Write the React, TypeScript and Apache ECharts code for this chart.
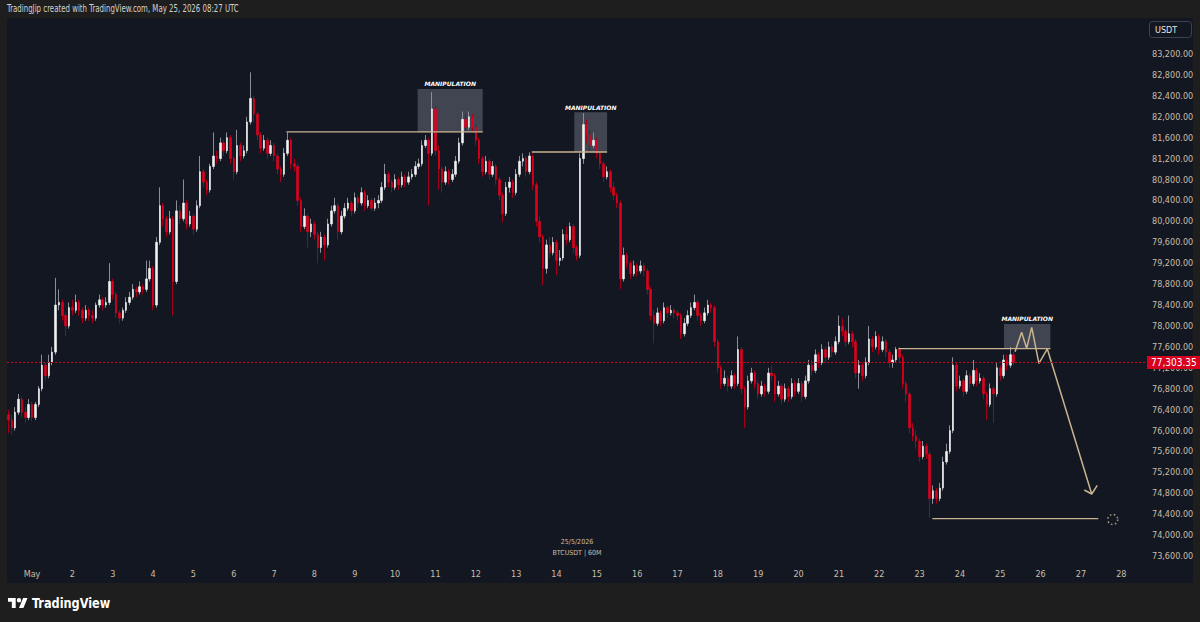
import React, { useEffect, useRef } from 'react';
import * as echarts from 'echarts';

// ---------- data (2-hour candles, hours counted from 1 May 00:00 UTC) ----------
const START_HOUR = -14; // first candle: 30 Apr 10:00 UTC
const STEP_HOURS = 2;
const FIRST_OPEN = 76300;
const LAST_PRICE = 77303.35;

const closes = [
  76200, 76050, 76350, 76600, 76350, 76250, 76500, 76250, 76500, 76800,
  77250, 77050, 77300, 77500, 78400, 78450, 78200, 78000, 78350, 78300,
  78450, 78300, 78150, 78300, 78200, 78150, 78400, 78500, 78400, 78450,
  78850, 78600, 78250, 78150, 78300, 78450, 78550, 78700, 78650, 78750,
  78700, 78900, 79100, 78400, 79600, 80300, 80050, 79800, 80050, 78850,
  80200, 80050, 80350, 79950, 80100, 79850, 80300, 80950, 80750, 80600,
  81050, 81250, 81200, 81500, 81350, 81600, 81200, 80950, 81450, 81250,
  81350, 81900, 82350, 82050, 81650, 81400, 81550, 81300, 81450, 81250,
  81000, 80900, 81300, 81550, 81100, 81050, 80400, 79900, 80100, 79800,
  79950, 79750, 79500, 79700, 79550, 79950, 80200, 80300, 79800, 80100,
  80250, 80350, 80200, 80450, 80350, 80550, 80300, 80400, 80250, 80350,
  80400, 80650, 80900, 80750, 80650, 80800, 80700, 80850, 80750, 80850,
  80900, 81050, 81100, 81450, 81550, 81300, 82150, 81350, 81000, 80750,
  80950, 80800, 80900, 81150, 81500, 81950, 81800, 82000, 81800, 81550,
  81200, 80950, 81150, 80900, 81050, 80800, 80500, 80150, 80650, 80750,
  80550, 80900, 81150, 81200, 80950, 81250, 80700, 80000, 79700, 79100,
  79550, 79400, 79600, 79250, 79300, 79750, 79650, 79900, 79500, 79350,
  81200, 81850, 81650, 81450, 81550, 81300, 81100, 80850, 80950, 80650,
  80500, 80350, 78900, 79350, 79200, 79000, 79150, 79050, 79150, 79050,
  78700, 78200, 78050, 78250, 78100, 78350, 78250, 78300, 78250, 78200,
  77850, 78050, 78200, 78350, 78450, 78200, 78100, 78250, 78400, 78350,
  77700, 77200, 76900, 77000, 76850, 77050, 76900, 77550, 76800, 76450,
  76950, 77100, 76900, 76700, 76850, 76750, 77100, 77050, 76700, 76850,
  76600, 76800, 76650, 76900, 76750, 76900, 76650, 76950, 77250, 77150,
  77450, 77300, 77550, 77400, 77600, 77500, 77700, 78000, 77900, 77700,
  77850, 77700, 77100, 77250, 77050, 77300, 77750, 77600, 77800, 77550,
  77700, 77500, 77300, 77350, 77550, 77400, 76900, 76700, 76050, 75900,
  75800, 75500, 75700, 75550, 74700, 74850, 74700, 74900, 75400, 75600,
  76000, 77250, 76850, 76950, 76750, 77050, 76900, 77150, 76950, 77000,
  76700, 76500, 76800, 76700, 77200, 77050, 77350, 77250, 77450, 77303.35,
];

const highs = [
  76400, 76300, 76450, 76700, 76650, 76450, 76600, 76550, 76550, 76850,
  77450, 77300, 77450, 77600, 78920, 78700, 78500, 78250, 78450, 78500,
  78600, 78500, 78350, 78400, 78350, 78300, 78450, 78600, 78550, 78550,
  79200, 78900, 78650, 78300, 78350, 78550, 78650, 78800, 78750, 78850,
  78800, 79250, 79250, 79150, 79700, 80650, 80350, 80100, 80200, 80100,
  80400, 80300, 80800, 80400, 80200, 80150, 80400, 81250, 81000, 80800,
  81100, 81700, 81350, 81600, 81550, 81700, 81650, 81250, 81750, 81500,
  81450, 82000, 82850, 82400, 82100, 81700, 81650, 81600, 81550, 81500,
  81300, 81050, 81400, 81700, 81600, 81200, 81100, 80450, 80250, 80150,
  80050, 80000, 79800, 79800, 79750, 80050, 80300, 80450, 80350, 80200,
  80350, 80450, 80400, 80550, 80500, 80650, 80600, 80500, 80450, 80450,
  80500, 80750, 81100, 80950, 80800, 80900, 80850, 80950, 80900, 80950,
  81000, 81150, 81200, 81550, 81650, 81600, 82470, 82200, 81450, 81050,
  81050, 81000, 81000, 81250, 81600, 82100, 82050, 82100, 82050, 81850,
  81600, 81250, 81250, 81200, 81150, 81100, 80850, 80550, 80750, 80850,
  80800, 81000, 81250, 81300, 81250, 81320, 81300, 80750, 80100, 79750,
  79650, 79700, 79700, 79650, 79450, 79850, 79900, 79980, 79950, 79550,
  81300, 82070, 81950, 81750, 81700, 81600, 81350, 81150, 81050, 81000,
  80750, 80550, 80400, 79500, 79400, 79250, 79250, 79200, 79250, 79200,
  79100, 78750, 78300, 78350, 78300, 78450, 78400, 78400, 78350, 78300,
  78250, 78150, 78300, 78450, 78600, 78500, 78250, 78350, 78500, 78450,
  78400, 77750, 77250, 77150, 77050, 77150, 77100, 77800, 77600, 76850,
  77050, 77200, 77150, 76950, 76950, 76900, 77200, 77250, 77100, 76950,
  76900, 76900, 76850, 77000, 76950, 77000, 76950, 77050, 77350, 77350,
  77550, 77500, 77650, 77600, 77700, 77650, 77800, 78200, 78150, 77950,
  78200, 77900, 77750, 77350, 77300, 77400, 78000, 77800, 77900, 77850,
  77800, 77750, 77550, 77450, 77600, 77600, 77450, 76950, 76750, 76150,
  76000, 75850, 75800, 75750, 75600, 74950, 74900, 75000, 75500, 75750,
  76100, 77400, 77300, 77050, 77000, 77150, 77100, 77350, 77200, 77100,
  77050, 76750, 76900, 76850, 77300, 77250, 77450, 77450, 77600, 77500,
];

const lows = [
  75950, 75920, 76000, 76300, 76250, 76150, 76200, 76180, 76200, 76450,
  76750, 76950, 77000, 77250, 77450, 78300, 78100, 77800, 77950, 78200,
  78250, 78200, 78050, 78100, 78100, 78050, 78100, 78350, 78300, 78350,
  78400, 78500, 78150, 78050, 78100, 78250, 78400, 78500, 78550, 78600,
  78600, 78650, 78850, 78300, 78350, 79550, 79900, 79700, 79750, 78200,
  78800, 79950, 80000, 79850, 79900, 79750, 79800, 80250, 80650, 80500,
  80550, 81000, 81100, 81150, 81250, 81300, 81100, 80800, 80900, 81150,
  81200, 81300, 81850, 81900, 81550, 81300, 81350, 81200, 81250, 81150,
  80900, 80750, 80850, 81250, 81000, 80950, 80300, 79800, 79850, 79500,
  79700, 79650, 79200, 79400, 79250, 79500, 79900, 80150, 79650, 79750,
  80050, 80200, 80100, 80150, 80250, 80300, 80200, 80250, 80200, 80200,
  80250, 80350, 80600, 80650, 80550, 80600, 80600, 80650, 80650, 80700,
  80800, 80850, 81000, 81050, 81400, 80300, 81250, 81250, 80600, 80550,
  80700, 80700, 80750, 80850, 81100, 81450, 81700, 81750, 81700, 81450,
  81100, 80850, 80900, 80800, 80850, 80700, 80400, 79980, 80100, 80550,
  80450, 80500, 80850, 81050, 80850, 80900, 80600, 79900, 79600, 78780,
  79000, 79300, 79350, 78970, 79150, 79250, 79550, 79600, 79400, 79250,
  79300, 81100, 81500, 81350, 81400, 81200, 81000, 80750, 80800, 80550,
  80400, 80250, 78700, 78850, 79100, 78900, 78950, 78950, 79000, 78950,
  78600, 78100, 77670, 78000, 78000, 78050, 78150, 78200, 78150, 78100,
  77750, 77800, 78000, 78150, 78300, 78100, 78000, 78050, 78200, 78250,
  77600, 77100, 76800, 76850, 76750, 76800, 76800, 76850, 76700, 76050,
  76400, 76900, 76800, 76600, 76650, 76650, 76700, 76950, 76550, 76650,
  76500, 76550, 76550, 76600, 76650, 76700, 76550, 76600, 76900, 77050,
  77100, 77200, 77250, 77300, 77350, 77400, 77450, 77650, 77800, 77600,
  77650, 77600, 77000, 76800, 76950, 77000, 77250, 77500, 77550, 77450,
  77500, 77400, 77200, 77200, 77300, 77300, 76800, 76550, 75950, 75800,
  75650, 75400, 75450, 75450, 74330, 74600, 74600, 74650, 74850, 75350,
  75550, 75950, 76750, 76800, 76650, 76700, 76800, 76850, 76850, 76900,
  76600, 76200, 76450, 76150, 76650, 76950, 77000, 77150, 77200, 77250,
];

const dayLabels = [
  'May', '2', '3', '4', '5', '6', '7', '8', '9', '10', '11', '12', '13', '14',
  '15', '16', '17', '18', '19', '20', '21', '22', '23', '24', '25', '26', '27', '28',
];

const priceTicks = [
  73600, 74000, 74400, 74800, 75200, 75600, 76000, 76400, 76800, 77200, 77600,
  78000, 78400, 78800, 79200, 79600, 80000, 80400, 80800, 81200, 81600, 82000,
  82400, 82800, 83200,
];

// drawings (time in hours from 1 May 00:00, price)
const manipulationBoxes = [
  { from: 229.4, to: 268.1, top: 82531, bottom: 81703 },
  { from: 322.6, to: 342.1, top: 82085, bottom: 81326 },
  { from: 578.2, to: 605.8, top: 78038, bottom: 77573 },
];
const levelLines = [
  [[151.3, 81709], [268.1, 81709]],
  [[297.3, 81326], [342.1, 81326]],
  [[515.4, 77565], [605.8, 77565]],
  [[535.6, 74315], [634.3, 74315]],
];
const projectionPath = [
  [584.8, 77508], [588.7, 77879], [591.7, 77573], [594.7, 77974],
  [599.0, 77286], [604.0, 77560], [630.4, 74787],
];
const arrowHead = [[626.0, 74864], [630.4, 74787], [633.7, 74954]];
const targetMarker = [[642.9, 74300]];

// ---------- styling ----------
const BG_OUTER = '#1e1e1e';
const BG_PANEL = '#131722';
const TEXT_AXIS = '#c9bea6';
const DRAW_COLOR = '#c8b48f';
const UP_BODY = '#f2f2f2';
const UP_WICK = '#8b8e96';
const DOWN_BODY = '#e0001e';
const DOWN_WICK = '#a0001a';
const NARROW = "'Liberation Sans Narrow', 'DejaVu Sans Condensed', 'Roboto', sans-serif";

const X_MIN = -14.9;
const X_MAX = 662.1;
const Y_MIN = 73468;
const Y_MAX = 83888;

const TV_LOGO_PATH =
  'M14 22H7V11H0V4h14v18zM28 22h-8l7.5-18h8L28 22zM24 8a4 4 0 1 1-8 0a4 4 0 1 1 8 0z';
try {
  echarts.graphic.registerShape('tvlogo', echarts.graphic.extendPath(TV_LOGO_PATH, {}));
} catch (e) {
  /* already registered */
}

function fmtPrice(v: number) {
  return v.toLocaleString('en-US', { minimumFractionDigits: 2, maximumFractionDigits: 2 });
}

function buildOption() {
  const opens = closes.map((_, i) => (i === 0 ? FIRST_OPEN : closes[i - 1]));
  const times = closes.map((_, i) => START_HOUR + STEP_HOURS * i);
  const wickData = closes.map((c, i) => [times[i], opens[i], c, lows[i], highs[i]]);
  const bodyData = closes.map((c, i) => [
    times[i],
    opens[i],
    c,
    Math.min(opens[i], c),
    Math.max(opens[i], c),
  ]);
  const dayTickHours = dayLabels.map((_, i) => i * 24);

  const lineSeries = (data: number[][], width: number) => ({
    type: 'line',
    data,
    symbol: 'none',
    silent: true,
    clip: false,
    z: 4,
    lineStyle: { color: DRAW_COLOR, width },
  });

  return {
    animation: false,
    backgroundColor: 'transparent',
    grid: { left: 7, right: 55, top: 18, bottom: 59 },
    xAxis: {
      type: 'value',
      min: X_MIN,
      max: X_MAX,
      axisLine: { show: false },
      axisTick: { show: false },
      splitLine: { show: false },
      axisLabel: {
        customValues: dayTickHours,
        formatter: (v: number) => dayLabels[Math.round(v / 24)] ?? '',
        color: TEXT_AXIS,
        fontSize: 9,
        fontFamily: NARROW,
        margin: 6,
      },
    },
    yAxis: {
      type: 'value',
      position: 'right',
      min: Y_MIN,
      max: Y_MAX,
      axisLine: { show: false },
      axisTick: { show: false },
      splitLine: { show: false },
      axisLabel: {
        customValues: priceTicks,
        formatter: (v: number) => fmtPrice(v),
        color: TEXT_AXIS,
        fontSize: 9,
        fontFamily: NARROW,
        margin: 7,
      },
    },
    series: [
      {
        type: 'candlestick',
        name: 'wicks',
        data: wickData,
        encode: { x: 0, y: [1, 2, 3, 4] },
        barWidth: 1,
        silent: true,
        itemStyle: {
          color: UP_WICK,
          color0: DOWN_WICK,
          borderColor: UP_WICK,
          borderColor0: DOWN_WICK,
          borderWidth: 1,
        },
      },
      {
        type: 'candlestick',
        name: 'BTCUSDT',
        data: bodyData,
        encode: { x: 0, y: [1, 2, 3, 4] },
        barWidth: 2,
        silent: true,
        itemStyle: {
          color: UP_BODY,
          color0: DOWN_BODY,
          borderColor: UP_BODY,
          borderColor0: DOWN_BODY,
          borderWidth: 0.6,
        },
        markArea: {
          silent: true,
          itemStyle: { color: 'rgba(122,126,140,0.45)' },
          label: {
            show: true,
            position: 'top',
            distance: 2,
            formatter: 'MANIPULATION',
            color: '#ffffff',
            fontSize: 6,
            fontStyle: 'italic',
            fontWeight: 'bold',
            fontFamily: "'DejaVu Sans', sans-serif",
          },
          data: manipulationBoxes.map((b) => [
            { xAxis: b.from, yAxis: b.top },
            { xAxis: b.to, yAxis: b.bottom },
          ]),
        },
        markLine: {
          silent: true,
          symbol: ['none', 'none'],
          lineStyle: { color: '#d0001c', type: [2, 2], width: 1 },
          label: {
            show: true,
            position: 'end',
            distance: 2,
            formatter: () => fmtPrice(LAST_PRICE),
            color: '#ffffff',
            backgroundColor: '#d8001f',
            fontSize: 10,
            fontFamily: NARROW,
            padding: [2, 4, 1, 4],
          },
          data: [{ yAxis: LAST_PRICE }],
        },
      },
      ...levelLines.map((l) => lineSeries(l, 1.3)),
      lineSeries(projectionPath, 1.5),
      lineSeries(arrowHead, 1.5),
      {
        type: 'scatter',
        data: targetMarker,
        silent: true,
        clip: false,
        symbol: 'circle',
        symbolSize: 10,
        z: 5,
        itemStyle: {
          color: 'rgba(0,0,0,0)',
          borderColor: DRAW_COLOR,
          borderWidth: 1.6,
          borderType: [1.6, 2.4],
        },
      },
    ],
    graphic: [
      {
        type: 'text',
        x: 7,
        y: 9,
        scaleX: 0.78,
        silent: true,
        style: {
          text: 'TradingJip created with TradingView.com, May 25, 2026 08:27 UTC',
          fill: '#d2d2d2',
          fontSize: 10,
          fontFamily: NARROW,
          verticalAlign: 'middle',
        },
      },
      {
        type: 'rect',
        silent: true,
        shape: { x: 1149.5, y: 21.5, width: 42, height: 16, r: 3 },
        style: { fill: BG_PANEL, stroke: '#3f434f', lineWidth: 1 },
      },
      {
        type: 'text',
        x: 1155,
        y: 30,
        silent: true,
        style: {
          text: 'USDT',
          fill: '#e6e6e6',
          fontSize: 9,
          fontFamily: NARROW,
          verticalAlign: 'middle',
        },
      },
      {
        type: 'text',
        x: 577,
        y: 542,
        silent: true,
        style: {
          text: '25/5/2026',
          fill: TEXT_AXIS,
          fontSize: 7,
          fontFamily: NARROW,
          align: 'center',
          verticalAlign: 'middle',
        },
      },
      {
        type: 'text',
        x: 577,
        y: 553,
        silent: true,
        style: {
          text: 'BTCUSDT | 60M',
          fill: TEXT_AXIS,
          fontSize: 7,
          fontFamily: NARROW,
          align: 'center',
          verticalAlign: 'middle',
        },
      },
      {
        type: 'tvlogo',
        x: 8,
        y: 595.8,
        scaleX: 0.55,
        scaleY: 0.55,
        silent: true,
        style: { fill: '#ffffff' },
      },
      {
        type: 'text',
        x: 32,
        y: 603,
        scaleX: 0.9,
        silent: true,
        style: {
          text: 'TradingView',
          fill: '#ffffff',
          fontSize: 14,
          fontWeight: 'bold',
          fontFamily: NARROW,
          verticalAlign: 'middle',
        },
      },
    ],
  };
}

export default function App() {
  const ref = useRef<HTMLDivElement>(null);
  useEffect(() => {
    document.body.style.margin = '0';
    if (!ref.current) return;
    const chart = echarts.init(ref.current, null, { renderer: 'svg', width: 1200, height: 622 });
    chart.setOption(buildOption() as any);
    return () => chart.dispose();
  }, []);
  return (
    <div style={{ position: 'relative', width: 1200, height: 622, background: BG_OUTER, overflow: 'hidden' }}>
      <div
        style={{ position: 'absolute', left: 7, top: 18, width: 1186, height: 565, background: BG_PANEL }}
      />
      <div ref={ref} style={{ position: 'absolute', left: 0, top: 0, width: 1200, height: 622 }} />
    </div>
  );
}
